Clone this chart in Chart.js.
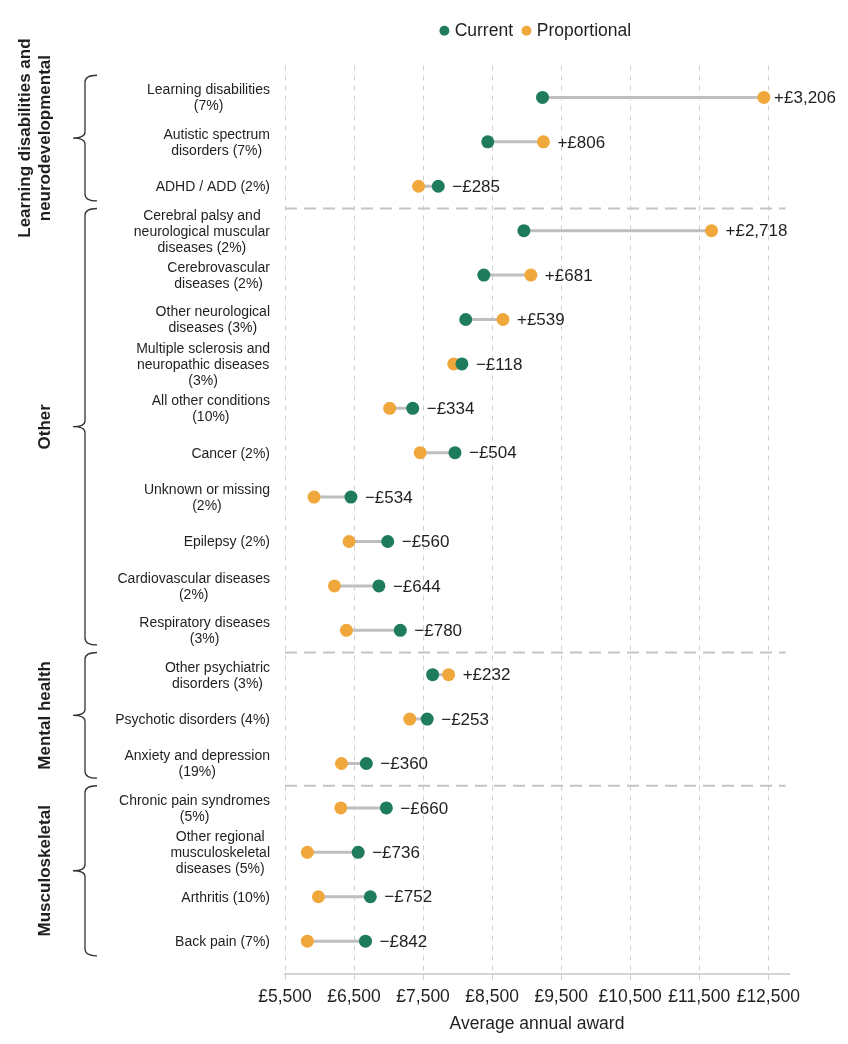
<!DOCTYPE html>
<html>
<head>
<meta charset="utf-8">
<title>Average annual award by condition</title>
<script src="https://cdn.jsdelivr.net/npm/chart.js@4.4.1/dist/chart.umd.min.js"></script>
<style>
  html, body { margin: 0; padding: 0; background: #fff; }
  #wrap { width: 848px; height: 1044px; }
</style>
</head>
<body>
<div id="wrap"><canvas id="awardChart" width="848" height="1044"></canvas></div>
<script>
// conditions, top to bottom (share of claimants in brackets)
const conditions = [
  ['Learning disabilities', '(7%)'],
  ['Autistic spectrum', 'disorders (7%)'],
  ['ADHD / ADD (2%)'],
  ['Cerebral palsy and', 'neurological muscular', 'diseases (2%)'],
  ['Cerebrovascular', 'diseases (2%)'],
  ['Other neurological', 'diseases (3%)'],
  ['Multiple sclerosis and', 'neuropathic diseases', '(3%)'],
  ['All other conditions', '(10%)'],
  ['Cancer (2%)'],
  ['Unknown or missing', '(2%)'],
  ['Epilepsy (2%)'],
  ['Cardiovascular diseases', '(2%)'],
  ['Respiratory diseases', '(3%)'],
  ['Other psychiatric', 'disorders (3%)'],
  ['Psychotic disorders (4%)'],
  ['Anxiety and depression', '(19%)'],
  ['Chronic pain syndromes', '(5%)'],
  ['Other regional', 'musculoskeletal', 'diseases (5%)'],
  ['Arthritis (10%)'],
  ['Back pain (7%)']
];
const currentAward = [9230, 8437, 7720, 8960, 8380, 8118, 8062, 7350, 7962, 6455,
                      6988, 6860, 7170, 7638, 7560, 6678, 6968, 6560, 6736, 6666];
const proportionalAward = [12436, 9243, 7435, 11678, 9061, 8657, 7944, 7016, 7458, 5921,
                           6428, 6216, 6390, 7870, 7307, 6318, 6308, 5824, 5984, 5824];

const groupNames = [['Learning disabilities and', 'neurodevelopmental'], ['Other'], ['Mental health'], ['Musculoskeletal']];
const groupStart = [0, 3, 13, 16];
const groupEnd = [2, 12, 15, 19];

const xTicks = [5500, 6500, 7500, 8500, 9500, 10500, 11500, 12500];

const GREEN = '#1e7b5c';
const ORANGE = '#f0a83c';
const TEXT = '#1f1f1f';
const FONT = "Arial, 'Liberation Sans', Helvetica, sans-serif";

Chart.defaults.font.family = FONT;
Chart.defaults.color = TEXT;

const rows = conditions.map((c, i) => i);

// grey connectors, one segment per condition, broken by null points
const connectorData = [];
rows.forEach(i => {
  connectorData.push({ x: currentAward[i], y: i });
  connectorData.push({ x: proportionalAward[i], y: i });
  connectorData.push({ x: null, y: null });
});

// dashed separators between the condition groups
const separatorData = [];
groupEnd.slice(0, -1).forEach(e => {
  separatorData.push({ x: 5500, y: e + 0.5 });
  separatorData.push({ x: 12750, y: e + 0.5 });
  separatorData.push({ x: null, y: null });
});

const fmtDiff = (d) => (d >= 0 ? '+' : '\u2212') + '£' + Math.abs(Math.round(d)).toLocaleString('en-GB');

const legendGap = {
  id: 'legendGap',
  beforeInit(chart) {
    const fit = chart.legend.fit;
    chart.legend.fit = function () {
      fit.bind(chart.legend)();
      this.height += 16;
    };
  }
};

function drawBrace(ctx, x, top, bottom) {
  const mid = (top + bottom) / 2;
  ctx.beginPath();
  ctx.moveTo(x + 12, top);
  ctx.quadraticCurveTo(x, top, x, top + 7);
  ctx.lineTo(x, mid - 6);
  ctx.quadraticCurveTo(x, mid, x - 12, mid);
  ctx.quadraticCurveTo(x, mid, x, mid + 6);
  ctx.lineTo(x, bottom - 7);
  ctx.quadraticCurveTo(x, bottom, x + 12, bottom);
  ctx.stroke();
}

const annotations = {
  id: 'annotations',
  afterDatasetsDraw(chart) {
    const { ctx } = chart;
    const xs = chart.scales.x;
    const ys = chart.scales.y;
    ctx.save();

    // condition labels: block right aligned, lines centred in the block
    ctx.font = '14px ' + FONT;
    ctx.fillStyle = TEXT;
    ctx.textAlign = 'center';
    ctx.textBaseline = 'middle';
    const labelRight = 270;
    const lineH = 16;
    conditions.forEach((lines, i) => {
      const w = Math.max(...lines.map(l => ctx.measureText(l).width));
      const cx = labelRight - w / 2;
      const cy = ys.getPixelForValue(i) + 1;
      lines.forEach((l, k) => {
        ctx.fillText(l, cx, cy + (k - (lines.length - 1) / 2) * lineH);
      });
    });

    // difference labels
    ctx.font = '17px ' + FONT;
    ctx.textAlign = 'left';
    rows.forEach(i => {
      const d = proportionalAward[i] - currentAward[i];
      const txt = fmtDiff(d);
      const w = ctx.measureText(txt).width;
      let px = xs.getPixelForValue(Math.max(currentAward[i], proportionalAward[i])) + 14;
      px = Math.min(px, chart.width - 12 - w);
      ctx.fillText(txt, px, ys.getPixelForValue(i) + 1);
    });

    // group braces and titles
    ctx.strokeStyle = '#333';
    ctx.lineWidth = 1.3;
    ctx.font = 'bold 17px ' + FONT;
    ctx.textAlign = 'center';
    groupNames.forEach((name, g) => {
      const top = ys.getPixelForValue(groupStart[g] - 0.5);
      const bottom = ys.getPixelForValue(groupEnd[g] + 0.33);
      drawBrace(ctx, 85, top, bottom);
      const mid = (top + bottom) / 2;
      ctx.save();
      ctx.translate(45, mid);
      ctx.rotate(-Math.PI / 2);
      const lh = 20;
      name.forEach((l, k) => {
        ctx.fillText(l, 0, (k - (name.length - 1)) * lh);
      });
      ctx.restore();
    });
    ctx.restore();
  }
};

new Chart(document.getElementById('awardChart'), {
  type: 'scatter',
  data: {
    datasets: [
      {
        label: 'Current',
        data: rows.map(i => ({ x: currentAward[i], y: i })),
        backgroundColor: GREEN,
        borderColor: GREEN,
        borderWidth: 0,
        pointRadius: 6.5,
        pointStyle: 'circle',
        order: 0
      },
      {
        label: 'Proportional',
        data: rows.map(i => ({ x: proportionalAward[i], y: i })),
        backgroundColor: ORANGE,
        borderColor: ORANGE,
        borderWidth: 0,
        pointRadius: 6.5,
        pointStyle: 'circle',
        order: 1
      },
      {
        label: 'gap',
        data: connectorData,
        showLine: true,
        spanGaps: false,
        borderColor: '#bfbfbf',
        borderWidth: 3,
        pointRadius: 0,
        order: 2
      },
      {
        label: 'separator',
        data: separatorData,
        showLine: true,
        spanGaps: false,
        borderColor: '#c4c4c4',
        borderWidth: 2,
        borderDash: [12, 7],
        pointRadius: 0,
        order: 3
      }
    ]
  },
  options: {
    responsive: false,
    animation: false,
    layout: { padding: { left: 285, right: 59, top: 10, bottom: 9 } },
    plugins: {
      tooltip: { enabled: false },
      legend: {
        position: 'top',
        fullSize: false,
        labels: {
          usePointStyle: true,
          boxWidth: 3,
          boxHeight: 7,
          padding: 12,
          color: TEXT,
          font: { size: 17.5 },
          filter: (item) => item.datasetIndex < 2
        }
      }
    },
    scales: {
      x: {
        type: 'linear',
        position: 'bottom',
        min: 5500,
        max: 12800,
        afterBuildTicks: (scale) => { scale.ticks = xTicks.map(v => ({ value: v })); },
        ticks: {
          font: { size: 17.5 },
          color: TEXT,
          padding: 7,
          maxRotation: 0,
          autoSkip: false,
          callback: (v) => '£' + Number(v).toLocaleString('en-GB')
        },
        grid: { color: '#cfcfcf', lineWidth: 1, tickLength: 6, tickColor: '#cfcfcf' },
        border: { display: true, color: '#d4d4d4', width: 2, dash: [5, 5] },
        title: {
          display: true,
          text: 'Average annual award',
          font: { size: 17.5 },
          color: TEXT,
          padding: { top: -1, bottom: 0 }
        }
      },
      y: {
        type: 'linear',
        reverse: true,
        min: -0.72,
        max: 19.74,
        display: false
      }
    }
  },
  plugins: [legendGap, annotations]
});
</script>
</body>
</html>
